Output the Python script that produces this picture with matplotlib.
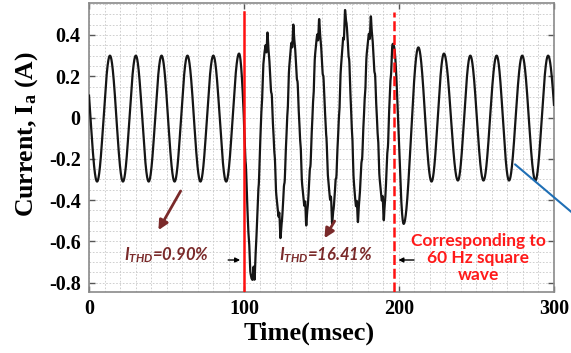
import matplotlib
matplotlib.use("Agg")
import matplotlib.pyplot as plt
import numpy as np
from matplotlib.ticker import MultipleLocator

plt.rcParams['axes.unicode_minus'] = False
plt.rcParams['mathtext.fontset'] = 'custom'
plt.rcParams['mathtext.it'] = 'Lato:italic:bold'
plt.rcParams['mathtext.bf'] = 'Liberation Serif:bold'
plt.rcParams['mathtext.rm'] = 'Liberation Serif:bold'

# phase current extremes (ms, A): positive peaks and negative troughs of each cycle
peak_t = [-3.2, 13.5, 30.2, 46.8, 63.5, 80.2, 96.8,
          114.5, 131.5, 148.0, 165.5, 181.5, 196.5,
          212.5, 229.0, 246.0, 263.0, 279.5, 296.2]
peak_v = [0.30, 0.30, 0.30, 0.30, 0.30, 0.30, 0.31,
          0.37, 0.40, 0.43, 0.47, 0.44, 0.35,
          0.34, 0.31, 0.30, 0.30, 0.30, 0.30]
trough_t = [5.2, 21.9, 38.5, 55.2, 71.9, 88.5,
            105.5, 123.5, 140.0, 157.0, 173.0, 190.0,
            203.0, 221.0, 238.0, 254.5, 271.0, 288.0, 305.0]
trough_v = [-0.31, -0.31, -0.31, -0.31, -0.31, -0.31,
            -0.79, -0.53, -0.47, -0.46, -0.46, -0.445,
            -0.515, -0.31, -0.305, -0.305, -0.305, -0.305, -0.305]

# harmonic ripple present while the square-wave source is connected
distorted_span = [100.0, 196.5]
harmonic_order = [5, 7, 11, 13, 17]
harmonic_amp = [0.018, 0.016, 0.014, 0.010, 0.008]

event_t = [100.0, 196.5]
thd_labels = ["=0.90%", "=16.41%"]

# join the extremes with half-cosine segments
ext_t = np.ravel(np.column_stack([peak_t, trough_t]))
ext_v = np.ravel(np.column_stack([peak_v, trough_v]))
t = np.arange(0, 300.05, 0.05)
idx = np.clip(np.searchsorted(ext_t, t) - 1, 0, len(ext_t) - 2)
s = (t - ext_t[idx]) / (ext_t[idx + 1] - ext_t[idx])
i_a = ext_v[idx] + (ext_v[idx + 1] - ext_v[idx]) * (1 - np.cos(np.pi * s)) / 2

win = (t > distorted_span[0]) & (t < distorted_span[1])
for h, a in zip(harmonic_order, harmonic_amp):
    i_a[win] += a * np.sin(2 * np.pi * 60 * h * t[win] / 1000.0 + 0.7 * h)

fig = plt.figure(figsize=(5.71, 3.53), dpi=100)
ax = fig.add_axes([0.1559, 0.1728, 0.8143, 0.8187])

ax.plot(t, i_a, color='#151515', lw=1.6, zorder=3)

ax.axvline(event_t[0], ymin=0, ymax=0.968, color='#ff1010', lw=1.8, zorder=4)
ax.axvline(event_t[1], ymin=0, ymax=0.968, color='#ff1010', lw=1.8,
           ls=(0, (4, 1.5)), zorder=4)

ax.set_xlim(0, 300)
ax.set_ylim(-0.845, 0.555)
ax.set_xticks([0, 100, 200, 300])
ax.set_yticks([-0.8, -0.6, -0.4, -0.2, 0, 0.2, 0.4])
ax.set_yticklabels(['-0.8', '-0.6', '-0.4', '-0.2', '0', '0.2', '0.4'])
ax.xaxis.set_minor_locator(MultipleLocator(10))
ax.yaxis.set_minor_locator(MultipleLocator(0.05))
ax.grid(which='both', color='#c8c8c8', lw=0.6, ls=(0, (2, 2)), zorder=0)
ax.tick_params(which='major', direction='in', length=4, width=1, color='#555555',
               top=True, right=True, labelsize=14.5)
ax.tick_params(which='minor', length=0)
ax.tick_params(axis='y', pad=6)
ax.tick_params(axis='x', pad=5)
for lab in ax.get_xticklabels() + ax.get_yticklabels():
    lab.set_fontfamily('Liberation Serif')
    lab.set_fontweight('bold')
for sp in ax.spines.values():
    sp.set_color('#8a8a8a')
    sp.set_linewidth(1.2)

ax.set_xlabel('Time(msec)', fontsize=19, fontweight='bold',
              fontfamily='Liberation Serif', va='center')
ax.xaxis.set_label_coords(0.473, -0.142)
ax.set_ylabel(r'Current, $\mathbf{I_a}$ (A)', fontsize=18.5, fontweight='bold',
              fontfamily='Liberation Serif', va='center')
ax.yaxis.set_label_coords(-0.135, 0.547)

# THD annotations
brown = '#7a2a2a'
ax.annotate('', xy=(43.9, -0.557), xytext=(60, -0.344),
            arrowprops=dict(arrowstyle='-|>', color=brown, lw=2, mutation_scale=14))
ax.annotate('', xy=(151, -0.596), xytext=(159.4, -0.49),
            arrowprops=dict(arrowstyle='-|>', color=brown, lw=2, mutation_scale=14))
ax.text(50, -0.668, r'$I_{THD}$' + thd_labels[0], color=brown, fontsize=12,
        fontfamily='Lato', fontweight='bold', fontstyle='italic',
        ha='center', va='center')
ax.text(153, -0.668, r'$I_{THD}$' + thd_labels[1], color=brown, fontsize=12,
        fontfamily='Lato', fontweight='bold', fontstyle='italic',
        ha='center', va='center')
ax.annotate('', xy=(99.3, -0.69), xytext=(88, -0.69),
            arrowprops=dict(arrowstyle='-|>', color='black', lw=1, mutation_scale=7))
ax.annotate('', xy=(197.8, -0.69), xytext=(211.5, -0.69),
            arrowprops=dict(arrowstyle='-|>', color='black', lw=1, mutation_scale=7))

ax.text(251, -0.68, 'Corresponding to\n60 Hz square\nwave', color='#ff1a1a',
        fontsize=12.5, fontfamily='Lato', fontweight='bold', ha='center', va='center',
        linespacing=1.1)

# callout line running off the right edge
ax.annotate('', xy=(314, -0.475), xytext=(273.5, -0.218), annotation_clip=False,
            arrowprops=dict(arrowstyle='-', color='#1f6fb5', lw=1.5))

fig.savefig('out.png', dpi=100)
